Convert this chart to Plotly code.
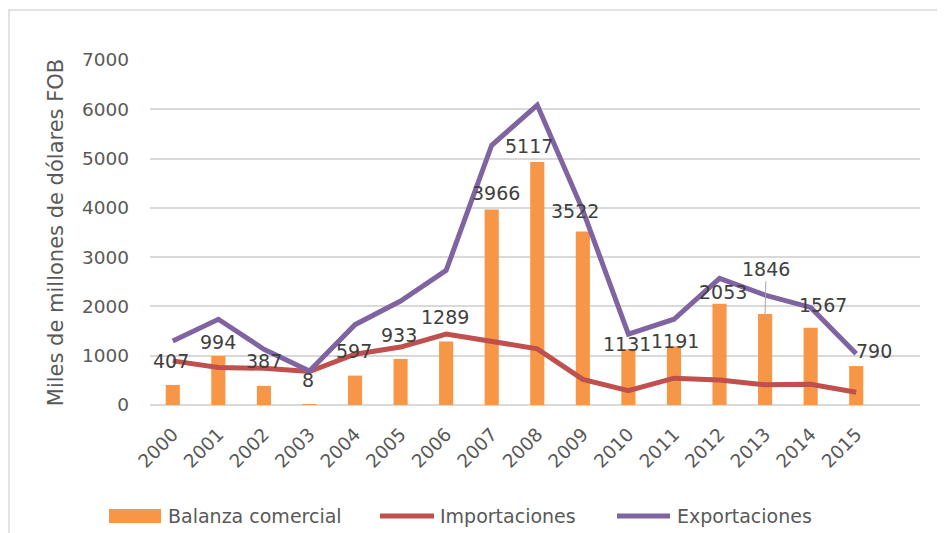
import plotly.graph_objects as go

years = [str(y) for y in range(2000, 2016)]
balanza = [407, 994, 387, 8, 597, 933, 1289, 3966, 4930, 3522, 1131, 1191, 2053, 1846, 1567, 790]
balanza_labels = ["407", "994", "387", "8", "597", "933", "1289", "3966", "5117", "3522",
                  "1131", "1191", "2053", "1846", "1567", "790"]
importaciones = [895, 760, 745, 680, 1030, 1175, 1440, 1300, 1140, 520, 290, 545, 505, 410, 420, 258]
exportaciones = [1300, 1740, 1130, 690, 1630, 2110, 2730, 5270, 6085, 3950, 1440, 1740, 2570, 2230, 1980, 1040]
y_ticks = [0, 1000, 2000, 3000, 4000, 5000, 6000, 7000]
series_names = ["Balanza comercial", "Importaciones", "Exportaciones"]
series_colors = ["#F79646", "#C0504D", "#8064A2"]

# label placement offsets (px) relative to each bar top (style only)
lab_dx = [-1.5, -0.6, -0.2, -1.2, -1.3, -1.8, -1, 3.8, -8.1, -8.3, -1, 1, 3.3, 1, 12.2, 18.1]
lab_dy = [24.4, 13.8, 25.4, 24.4, 24.8, 24.3, 24, 16.2, 16.2, 20.9, 4.8, 5, 11.8, 45.3, 23.1, 15.5]
leader_idx = 13

FONT = "DejaVu Sans"
OFF = 8  # page body margin
W, H = 945 - OFF, 533 - OFF
ML, MR, MT, MB = 150 - OFF, 25, 60 - OFF, 128
PW, PH = W - ML - MR, H - MT - MB


def px_x(p):
    return (p - OFF - ML) / PW


def px_y(p):
    return (H - MB - (p - OFF)) / PH


fig = go.Figure()
fig.add_trace(go.Bar(x=years, y=balanza, name=series_names[0], showlegend=False,
                     marker=dict(color=series_colors[0], line=dict(width=0)), width=0.31))
fig.add_trace(go.Scatter(x=years, y=importaciones, name=series_names[1], mode="lines", showlegend=False,
                         line=dict(color=series_colors[1], width=5)))
fig.add_trace(go.Scatter(x=years, y=exportaciones, name=series_names[2], mode="lines", showlegend=False,
                         line=dict(color=series_colors[2], width=5)))

annotations = []
for i, (v, t) in enumerate(zip(balanza, balanza_labels)):
    if i == leader_idx:
        annotations.append(dict(x=i, y=v, xref="x", yref="y", text=t, showarrow=True, arrowhead=0,
                                arrowwidth=1, arrowcolor="#a6a6a6", ax=lab_dx[i], ay=-lab_dy[i], standoff=0,
                                font=dict(family=FONT, size=19, color="#404040")))
    else:
        annotations.append(dict(x=i, y=v, xref="x", yref="y", text=t, showarrow=False,
                                xshift=lab_dx[i], yshift=lab_dy[i], xanchor="center", yanchor="middle",
                                font=dict(family=FONT, size=19, color="#404040")))

# chart border and custom legend (swatches + real text)
shapes = [dict(type="rect", xref="paper", yref="paper", x0=px_x(9), x1=px_x(960), y0=px_y(560), y1=px_y(10),
               line=dict(color="#d9d9d9", width=1.5), fillcolor="rgba(0,0,0,0)", layer="below")]
leg_y = 516
shapes.append(dict(type="rect", xref="paper", yref="paper", x0=px_x(109), x1=px_x(161),
                   y0=px_y(523), y1=px_y(509), line=dict(width=0), fillcolor=series_colors[0]))
for (x0, x1), c in zip([(380, 434), (617, 670)], series_colors[1:]):
    shapes.append(dict(type="line", xref="paper", yref="paper", x0=px_x(x0), x1=px_x(x1),
                       y0=px_y(leg_y), y1=px_y(leg_y), line=dict(color=c, width=5)))
for name, tx in zip(series_names, [166, 438, 675]):
    annotations.append(dict(x=px_x(tx), y=px_y(leg_y), xref="paper", yref="paper", text=name,
                            showarrow=False, xanchor="left", yanchor="middle",
                            font=dict(family=FONT, size=19, color="#595959")))

fig.update_layout(
    width=W, height=H,
    margin=dict(l=ML, r=MR, t=MT, b=MB),
    paper_bgcolor="white", plot_bgcolor="white",
    font=dict(family=FONT, color="#595959"),
    showlegend=False,
    xaxis=dict(type="category", range=[-0.5, 16.4], tickangle=-45, showgrid=False, automargin=False,
               showline=False, ticks="", ticklabelstandoff=14,
               tickfont=dict(family=FONT, size=18.5, color="#595959")),
    yaxis=dict(range=[0, 7000], tickvals=y_ticks, showgrid=True, gridcolor="#d9d9d9", gridwidth=1.5,
               zeroline=True, zerolinecolor="#d9d9d9", zerolinewidth=1.5, showline=False, ticks="",
               automargin=False, ticklabelstandoff=20,
               tickfont=dict(family=FONT, size=18.5, color="#595959"),
               title=dict(text="Miles de millones de dólares FOB",
                          font=dict(family=FONT, size=21, color="#595959"), standoff=12)),
    annotations=annotations,
    shapes=shapes,
)

fig.write_html("out.html")
